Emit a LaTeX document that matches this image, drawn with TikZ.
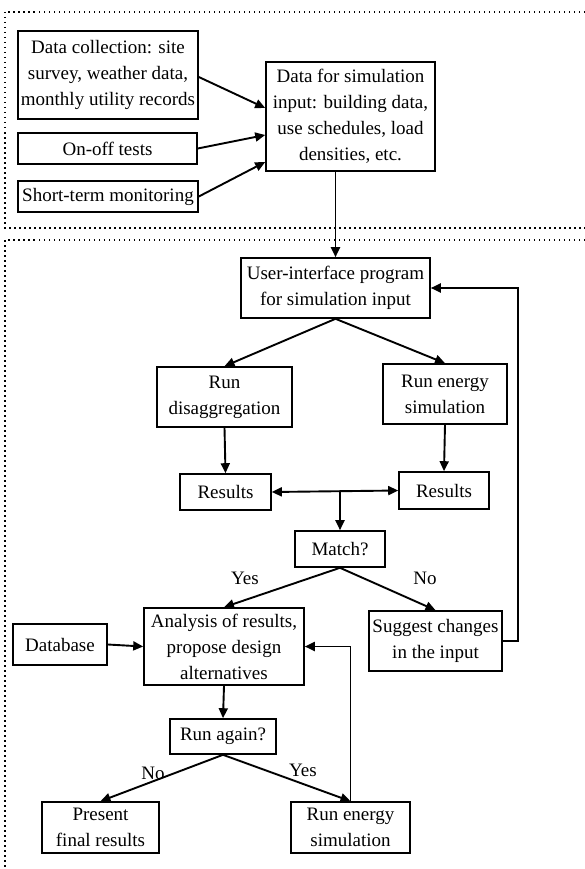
\documentclass[tikz,border=0pt]{standalone}
\usepackage{fontspec}
\setmainfont{Liberation Serif}
\usetikzlibrary{arrows.meta, positioning}

\begin{document}
\begin{tikzpicture}[
    x=1pt, y=-1pt,
    font=\fontsize{19}{26}\selectfont,
    stepBox/.style={rectangle, draw=black, line width=1.6pt, align=center, inner sep=1pt},
    flowArrow/.style={-{Triangle[length=10pt, width=9pt]}, line width=1.9pt},
    panelFrame/.style={line width=1.5pt, dash pattern=on 1.5pt off 3.5pt},
    choiceLabel/.style={inner sep=0pt}
]
    \useasboundingbox (0,0) rectangle (585,869);

    % --- TOP PANEL: DATA GATHERING ---
    \draw[panelFrame] (585,12) -- (5,12) -- (5,228) -- (585,228);

    \node[stepBox, minimum width=180pt, minimum height=88pt] (collect) at (108,75)
        {Data collection: site\\survey, weather data,\\monthly utility records};
    \node[stepBox, minimum width=179pt, minimum height=31pt] (onoff) at (107.5,148.5) {On-off tests};
    \node[stepBox, minimum width=180pt, minimum height=31pt] (monitor) at (108,196.5) {Short-term monitoring};
    \node[stepBox, minimum width=169pt, minimum height=109pt] (simData) at (350.5,116.5)
        {Data for simulation\\input: building data,\\use schedules, load\\densities, etc.};

    \draw[flowArrow] ([yshift=-2pt]collect.east) -- ([yshift=8.5pt]simData.west);
    \draw[flowArrow] (onoff.east) -- ([yshift=-18.5pt]simData.west);
    \draw[flowArrow] (monitor.east) -- ([yshift=-45.5pt]simData.west);

    % --- BOTTOM PANEL: SIMULATION LOOP ---
    \draw[panelFrame] (585,240) -- (5,240) -- (5,869);

    \node[stepBox, minimum width=189pt, minimum height=60pt] (uiProg) at (335.5,288)
        {User-interface program\\for simulation input};
    \draw[flowArrow] (uiProg.north |- simData.south) -- (uiProg.north);

    % Two simulation branches
    \node[stepBox, minimum width=135pt, minimum height=60pt] (disagg) at (224.5,397) {Run\\disaggregation};
    \node[stepBox, minimum width=124pt, minimum height=60pt] (energySim) at (445,394) {Run energy\\simulation};
    \draw[flowArrow] (uiProg.south) -- (disagg.north);
    \draw[flowArrow] (uiProg.south) -- (energySim.north);

    \node[stepBox, minimum width=91pt, minimum height=36pt] (resLeft) at (225.5,492) {Results};
    \node[stepBox, minimum width=90pt, minimum height=37pt] (resRight) at (444,490.5) {Results};
    \draw[flowArrow] (disagg.south) -- (resLeft.north);
    \draw[flowArrow] (energySim.south) -- (resRight.north);
    \draw[flowArrow, {Triangle[length=10pt, width=9pt]}-{Triangle[length=10pt, width=9pt]}] (resLeft.east) -- (resRight.west);

    % Comparison
    \node[stepBox, minimum width=90pt, minimum height=36pt] (match) at (340,549) {Match?};
    \draw[flowArrow] (match.north |- resLeft.east) -- (match.north);

    \node[stepBox, minimum width=160pt, minimum height=77pt] (analysis) at (224,646.5)
        {Analysis of results,\\propose design\\alternatives};
    \node[stepBox, minimum width=94pt, minimum height=41pt] (database) at (60,644.5) {Database};
    \node[stepBox, minimum width=133pt, minimum height=60pt] (suggest) at (435.5,641) {Suggest changes\\in the input};

    \node[choiceLabel] (yesMatch) at (245,578) {Yes};
    \node[choiceLabel] (noMatch) at (425,578) {No};
    \draw[flowArrow] (match.south) -- (analysis.north);
    \draw[flowArrow] (match.south) -- (suggest.north);
    \draw[flowArrow] (database.east) -- (analysis.west);

    % Feedback to the input program
    \draw[flowArrow] (suggest.east) -- ++(15,0) |- (uiProg.east);

    % Design alternatives loop
    \node[stepBox, minimum width=106pt, minimum height=35pt] (again) at (223,736.5) {Run again?};
    \draw[flowArrow] (analysis.south) -- (again.north);

    \node[stepBox, minimum width=117pt, minimum height=51pt] (present) at (100.5,827.5) {Present\\final results};
    \node[stepBox, minimum width=119pt, minimum height=51pt] (rerun) at (350.5,827.5) {Run energy\\simulation};

    \node[choiceLabel] (noAgain) at (153,773) {No};
    \node[choiceLabel] (yesAgain) at (303,770) {Yes};
    \draw[flowArrow] (again.south) -- (present.north);
    \draw[flowArrow] (again.south) -- (rerun.north);
    \draw[flowArrow] (rerun.north) |- (analysis.east);

\end{tikzpicture}
\end{document}
